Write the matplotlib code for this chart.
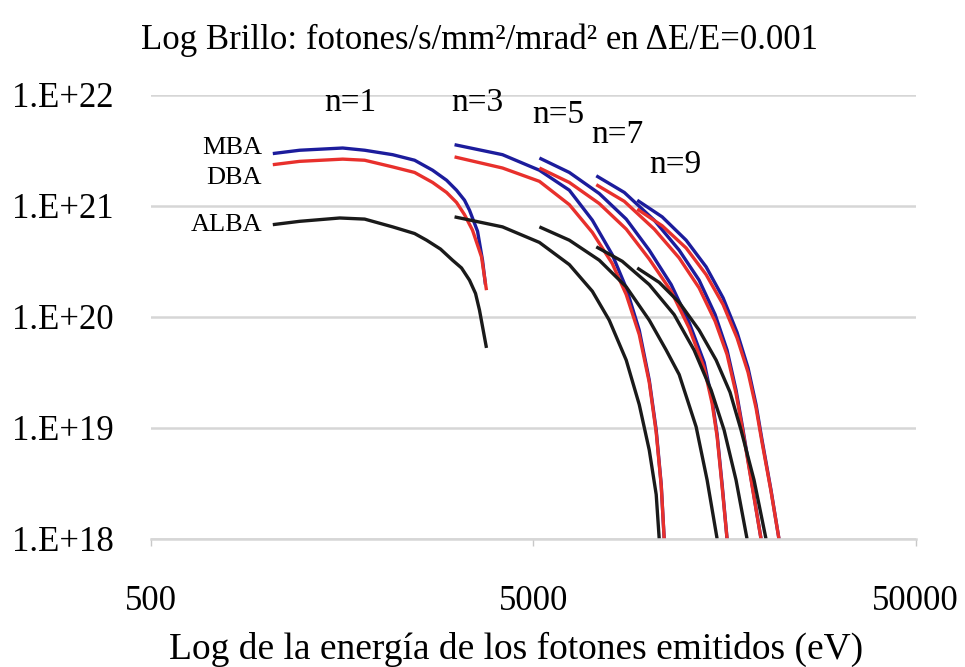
import matplotlib
matplotlib.use('Agg')
import matplotlib.pyplot as plt
import numpy as np

plt.rcParams['font.family'] = ['Liberation Serif', 'DejaVu Serif']

# energia de los fotones (eV) y log10 del brillo
e_mba1 = [1041, 1224, 1586, 1810, 2142, 2445, 2725, 2964, 3147, 3302, 3403, 3572, 3680, 3746]
b_mba1 = [21.47, 21.50, 21.52, 21.50, 21.46, 21.41, 21.32, 21.23, 21.14, 21.05, 20.96, 20.77, 20.51, 20.29]
e_dba1 = [1041, 1224, 1586, 1810, 2142, 2445, 2725, 2964, 3147, 3302, 3465, 3658, 3769]
b_dba1 = [21.37, 21.40, 21.42, 21.41, 21.35, 21.30, 21.21, 21.12, 21.03, 20.92, 20.78, 20.54, 20.24]
e_alba1 = [1041, 1224, 1558, 1810, 2142, 2445, 2628, 2858, 3072, 3243, 3403, 3529, 3614, 3769]
b_alba1 = [20.83, 20.86, 20.89, 20.88, 20.81, 20.75, 20.69, 20.61, 20.51, 20.44, 20.33, 20.21, 20.06, 19.72]

e_n3 = [3110, 4151, 5184, 6208, 7131, 8038, 8744, 9457, 10045, 10474, 10795, 10990]
b_mba3 = [21.55, 21.46, 21.32, 21.14, 20.87, 20.56, 20.26, 19.88, 19.43, 18.98, 18.49, 18.00]
b_dba3 = [21.44, 21.34, 21.22, 21.01, 20.76, 20.48, 20.20, 19.84, 19.41, 18.96, 18.48, 18.00]
e_alba3 = [3110, 4151, 5184, 6208, 7131, 7893, 8744, 9457, 10045, 10474, 10666]
b_alba3 = [20.90, 20.81, 20.67, 20.47, 20.23, 19.97, 19.61, 19.21, 18.80, 18.40, 18.00]

e_n5 = [5184, 6208, 7434, 8744, 10045, 11463, 12768, 13979, 14668, 15117, 15578, 16049]
b_mba5 = [21.43, 21.30, 21.11, 20.88, 20.60, 20.29, 19.95, 19.59, 19.25, 18.94, 18.49, 18.00]
b_dba5 = [21.34, 21.21, 21.02, 20.79, 20.52, 20.23, 19.90, 19.54, 19.22, 18.92, 18.47, 18.00]
e_alba5 = [5184, 6208, 7434, 8744, 10045, 11124, 12028, 13320, 14233, 15117]
b_alba5 = [20.81, 20.69, 20.51, 20.27, 19.97, 19.70, 19.48, 19.01, 18.53, 18.00]

e_n7 = [7301, 8643, 10350, 12028, 13563, 14936, 16049, 16940, 17670, 18654, 19690]
b_mba7 = [21.27, 21.12, 20.87, 20.60, 20.33, 20.02, 19.70, 19.34, 18.98, 18.49, 18.00]
b_dba7 = [21.19, 21.04, 20.79, 20.53, 20.26, 19.96, 19.66, 19.31, 18.96, 18.48, 18.00]
e_alba7 = [7301, 8538, 10045, 11669, 13160, 14580, 15765, 16940, 18101]
b_alba7 = [20.63, 20.50, 20.29, 20.02, 19.70, 19.34, 18.98, 18.53, 18.00]

e_n9 = [9342, 10858, 12541, 14147, 15671, 17043, 18210, 19106, 19810, 20908, 21935]
b_mba9 = [21.05, 20.90, 20.69, 20.45, 20.17, 19.86, 19.54, 19.21, 18.89, 18.44, 18.00]
b_dba9 = [20.97, 20.82, 20.62, 20.38, 20.11, 19.81, 19.50, 19.18, 18.87, 18.43, 18.00]
e_alba9 = [9342, 10666, 12028, 13563, 15027, 16341, 17459, 18880, 20290]
b_alba9 = [20.44, 20.31, 20.13, 19.88, 19.61, 19.32, 18.98, 18.53, 18.00]

harmonics = ['n=1', 'n=3', 'n=5', 'n=7', 'n=9']
lattices = ['MBA', 'DBA', 'ALBA']

curves = [
    ('MBA', e_mba1, b_mba1), ('DBA', e_dba1, b_dba1), ('ALBA', e_alba1, b_alba1),
    ('MBA', e_n3, b_mba3), ('DBA', e_n3, b_dba3), ('ALBA', e_alba3, b_alba3),
    ('MBA', e_n5, b_mba5), ('DBA', e_n5, b_dba5), ('ALBA', e_alba5, b_alba5),
    ('MBA', e_n7, b_mba7), ('DBA', e_n7, b_dba7), ('ALBA', e_alba7, b_alba7),
    ('MBA', e_n9, b_mba9), ('DBA', e_n9, b_dba9), ('ALBA', e_alba9, b_alba9),
]
colors = {'MBA': '#1c1c9c', 'DBA': '#e8302c', 'ALBA': '#1a1a1a'}

fig = plt.figure(figsize=(9.65, 6.67), dpi=100)
ax = fig.add_axes([0.1565, 0.192, 0.7925, 0.666])

for name, e, b in curves:
    ax.plot(e, 10 ** np.array(b), color=colors[name], lw=2.4,
            solid_capstyle='butt', solid_joinstyle='round')

ax.set_xscale('log')
ax.set_yscale('log')
ax.set_xlim(500, 50000)
ax.set_ylim(1e18, 1e22)

yt = [1e18, 1e19, 1e20, 1e21, 1e22]
ax.set_yticks(yt)
ax.set_yticklabels(['1.E+18', '1.E+19', '1.E+20', '1.E+21', '1.E+22'])
ax.set_xticks([500, 5000, 50000])
ax.set_xticklabels(['500', '5000', '50000'])
ax.minorticks_off()
ax.tick_params(axis='y', length=0, pad=27, labelsize=25)
ax.tick_params(axis='x', length=5, width=1, color='#c8c8c8', pad=28, labelsize=25)

ax.grid(axis='y', color='#d6d6d6', lw=1.8)
ax.set_axisbelow(True)
for s in ['top', 'right', 'left']:
    ax.spines[s].set_visible(False)
ax.spines['bottom'].set_color('#d6d6d6')
ax.spines['bottom'].set_linewidth(1.8)

ax.set_xlabel('Log de la energía de los fotones emitidos (eV)', fontsize=27)
ax.xaxis.set_label_coords(0.477, -0.21)
fig.text(0.497, 0.94, 'Log Brillo: fotones/s/mm²/mrad² en ΔE/E=0.001',
         ha='center', va='center', fontsize=25)

# etiquetas de armonicos y de redes
hx = [0.260, 0.427, 0.532, 0.610, 0.685]
hy = [0.982, 0.982, 0.955, 0.910, 0.842]
for t, x, y in zip(harmonics, hx, hy):
    ax.text(x, y, t, transform=ax.transAxes, ha='center', va='center', fontsize=24)

ly = [0.881, 0.813, 0.707]
for t, y in zip(lattices, ly):
    ax.text(0.145, y, t, transform=ax.transAxes, ha='right', va='center', fontsize=19)

fig.savefig('out.png', dpi=100)
